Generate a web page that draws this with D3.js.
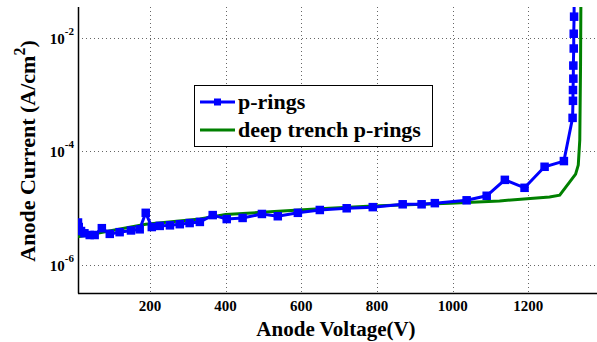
<!DOCTYPE html>
<html>
<head>
<meta charset="utf-8">
<script src="https://cdn.jsdelivr.net/npm/d3@7"></script>
<style>
  body { margin: 0; background: #fff; }
  text { font-family: "Liberation Serif", "Times New Roman", serif; font-weight: bold; }
</style>
</head>
<body>
<script>
// p-rings (blue, square markers)
const pringsV = [10, 12, 18, 27, 41, 54, 73, 94, 120, 150, 173, 189, 205, 226, 253, 279, 305, 332, 366, 403, 445, 496, 538, 591, 649, 720, 789, 868, 918, 953, 1037, 1090, 1138, 1190, 1243, 1294, 1317, 1318, 1318, 1319, 1319, 1320, 1320, 1321, 1321];
const pringsLogI = [-5.25, -5.33, -5.40, -5.44, -5.47, -5.47, -5.35, -5.45, -5.42, -5.39, -5.37, -5.08, -5.33, -5.31, -5.30, -5.28, -5.26, -5.24, -5.12, -5.19, -5.17, -5.10, -5.14, -5.08, -5.03, -5.00, -4.98, -4.93, -4.93, -4.91, -4.86, -4.78, -4.50, -4.64, -4.27, -4.17, -3.41, -3.11, -2.92, -2.72, -2.49, -2.19, -1.93, -1.63, -1.35];

// deep trench p-rings (green, line only)
const trenchV = [10, 189, 332, 400, 496, 649, 789, 993, 1124, 1256, 1283, 1309, 1325, 1332, 1336, 1338, 1339];
const trenchLogI = [-5.50, -5.28, -5.19, -5.11, -5.07, -5.01, -4.96, -4.91, -4.87, -4.80, -4.77, -4.54, -4.40, -4.24, -3.80, -2.50, -1.30];

const xTicks = [200, 400, 600, 800, 1000, 1200, 1400];
const yTickExp = [-6, -4, -2];
const legendLabels = ["p-rings", "deep trench p-rings"];

const W = 597, H = 342;
const m = {left: 78, top: 7, bottom: 293, right: 604};

const x = d3.scaleLinear().domain([10, 1400]).range([m.left, m.right]);
const y = d3.scaleLog().domain([Math.pow(10, -6.49), Math.pow(10, -1.46)]).range([m.bottom, m.top]);

const svg = d3.select("body").append("svg")
  .attr("width", W).attr("height", H);

svg.append("defs").append("clipPath").attr("id", "plotclip")
  .append("rect").attr("x", m.left).attr("y", m.top)
  .attr("width", m.right - m.left).attr("height", m.bottom - m.top);

// grid
const grid = svg.append("g")
  .attr("stroke", "#666").attr("stroke-width", 1).attr("stroke-dasharray", "1,3");
grid.selectAll(".vg").data(xTicks).enter().append("line")
  .attr("x1", d => Math.round(x(d)) + 0.5).attr("x2", d => Math.round(x(d)) + 0.5)
  .attr("y1", m.top).attr("y2", m.bottom);
grid.selectAll(".hg").data(yTickExp).enter().append("line")
  .attr("x1", m.left).attr("x2", m.right)
  .attr("y1", d => Math.round(y(Math.pow(10, d))) + 0.5)
  .attr("y2", d => Math.round(y(Math.pow(10, d))) + 0.5);

// axes lines
svg.append("line").attr("x1", m.left + 0.5).attr("x2", m.left + 0.5)
  .attr("y1", m.top).attr("y2", m.bottom + 0.5).attr("stroke", "#000").attr("stroke-width", 1.5);
svg.append("line").attr("x1", m.left).attr("x2", m.right)
  .attr("y1", m.bottom + 0.5).attr("y2", m.bottom + 0.5).attr("stroke", "#000").attr("stroke-width", 1.5);

// x tick labels
svg.selectAll(".xt").data(xTicks.filter(d => x(d) < W - 10)).enter().append("text")
  .attr("x", d => x(d)).attr("y", 311)
  .attr("text-anchor", "middle").attr("font-size", 15)
  .text(d => d);

// y tick labels: 10^n
const yl = svg.selectAll(".yt").data(yTickExp).enter().append("text")
  .attr("x", 74).attr("y", d => y(Math.pow(10, d)) + 6)
  .attr("text-anchor", "end").attr("font-size", 15);
yl.append("tspan").text("10");
yl.append("tspan").attr("dy", -9).attr("font-size", 11).text(d => d);

// axis titles
svg.append("text").attr("x", 336).attr("y", 336)
  .attr("text-anchor", "middle").attr("font-size", 21)
  .text("Anode Voltage(V)");

const yt = svg.append("text")
  .attr("transform", "translate(35,151) rotate(-90)")
  .attr("text-anchor", "middle").attr("font-size", 22);
yt.append("tspan").text("Anode Current (A/cm");
yt.append("tspan").attr("dy", -10).attr("font-size", 16).text("2");
yt.append("tspan").attr("dy", 10).text(")");

// series
const plot = svg.append("g").attr("clip-path", "url(#plotclip)");
const line = d3.line().x(d => x(d[0])).y(d => y(Math.pow(10, d[1])));

const trench = trenchV.map((v, i) => [v, trenchLogI[i]]);
const prings = pringsV.map((v, i) => [v, pringsLogI[i]]);

plot.append("path").datum(trench)
  .attr("d", line).attr("fill", "none")
  .attr("stroke", "#008000").attr("stroke-width", 3);

plot.append("path").datum(prings)
  .attr("d", line).attr("fill", "none")
  .attr("stroke", "#0000ff").attr("stroke-width", 3);

plot.selectAll(".mk").data(prings).enter().append("rect")
  .attr("x", d => x(d[0]) - 3.5).attr("y", d => y(Math.pow(10, d[1])) - 3.5)
  .attr("width", 7).attr("height", 7)
  .attr("fill", "#0000ff").attr("stroke", "#0000ff").attr("stroke-width", 1.5);

// legend
const lg = svg.append("g");
lg.append("rect").attr("x", 194.5).attr("y", 85.5).attr("width", 238).attr("height", 61)
  .attr("fill", "#fff").attr("stroke", "#000").attr("stroke-width", 1);
const legendColors = ["#0000ff", "#008000"];
const legendY = [102, 130];
legendLabels.forEach((lab, i) => {
  lg.append("line").attr("x1", 200).attr("x2", 235)
    .attr("y1", legendY[i]).attr("y2", legendY[i])
    .attr("stroke", legendColors[i]).attr("stroke-width", 3);
  if (i === 0) {
    lg.append("rect").attr("x", 214).attr("y", legendY[i] - 3.5)
      .attr("width", 7).attr("height", 7).attr("fill", "#0000ff");
  }
  lg.append("text").attr("x", 238).attr("y", legendY[i] + 7)
    .attr("font-size", 22).text(lab);
});
</script>
</body>
</html>
